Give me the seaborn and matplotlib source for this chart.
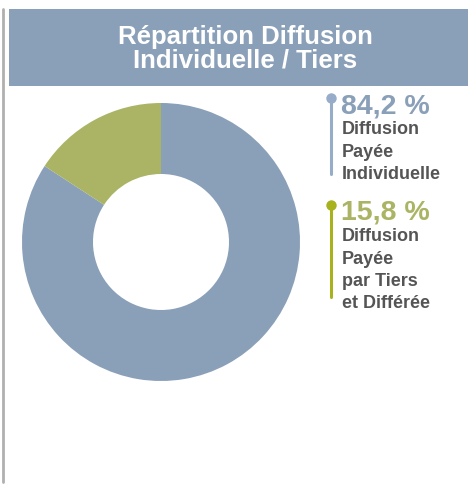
import matplotlib
matplotlib.use("Agg")
import matplotlib.pyplot as plt
import seaborn as sns
from matplotlib.patches import Rectangle
from matplotlib.lines import Line2D

sns.set_theme(style="white")
plt.rcParams['font.family'] = ['Liberation Sans', 'DejaVu Sans']

categories = ["Diffusion Payée Individuelle", "Diffusion Payée par Tiers et Différée"]
values = [84.2, 15.8]
value_labels = ["84,2 %", "15,8 %"]
desc_labels = [["Diffusion", "Payée", "Individuelle"],
               ["Diffusion", "Payée", "par Tiers", "et Différée"]]
colors = ["#8a9fb8", "#abb464"]
marker_colors = ["#97acc8", "#a8b21e"]
title = "Répartition Diffusion\nIndividuelle / Tiers"

W, H = 468, 485
fig = plt.figure(figsize=(W / 100, H / 100), dpi=100)

# background overlay axes in pixel coords
bg = fig.add_axes([0, 0, 1, 1])
bg.set_xlim(0, W)
bg.set_ylim(H, 0)
bg.axis("off")
bg.add_line(Line2D([2.5, 2.5], [10, 483], color="#b0b0b0", lw=2))
bg.add_patch(Rectangle((9, 10), W - 9, 77, color="#8a9fb8", lw=0))
bg.text(245, 49, title, ha="center", va="center", color="white",
        fontsize=18.5, fontweight="bold", linespacing=1.0)

# donut
cx, cy, r = 161, 243, 139
ax = fig.add_axes([(cx - r) / W, 1 - (cy + r) / H, 2 * r / W, 2 * r / H])
ax.pie(values, colors=colors, startangle=90, counterclock=False,
       wedgeprops=dict(width=71 / 139, linewidth=0), radius=1)
ax.set_xlim(-1, 1)
ax.set_ylim(-1, 1)
ax.set_aspect("auto")
ax.axis("off")

# legend
blocks = [(99, 175), (206, 298)]
for i, (y0, y1) in enumerate(blocks):
    bg.add_line(Line2D([331, 331], [y0, y1], color=marker_colors[i], lw=2.2))
    bg.plot([331], [y0], "o", color=marker_colors[i], ms=7.5, mec="none")
    bg.text(341, y0 + 7, value_labels[i], ha="left", va="center",
            color=colors[i], fontsize=20.5, fontweight="bold")
    for j, line in enumerate(desc_labels[i]):
        bg.text(342, y0 + 31 + j * 22.3, line, ha="left", va="center",
                color="#555555", fontsize=13, fontweight="bold")

fig.savefig("out.png", dpi=100)
